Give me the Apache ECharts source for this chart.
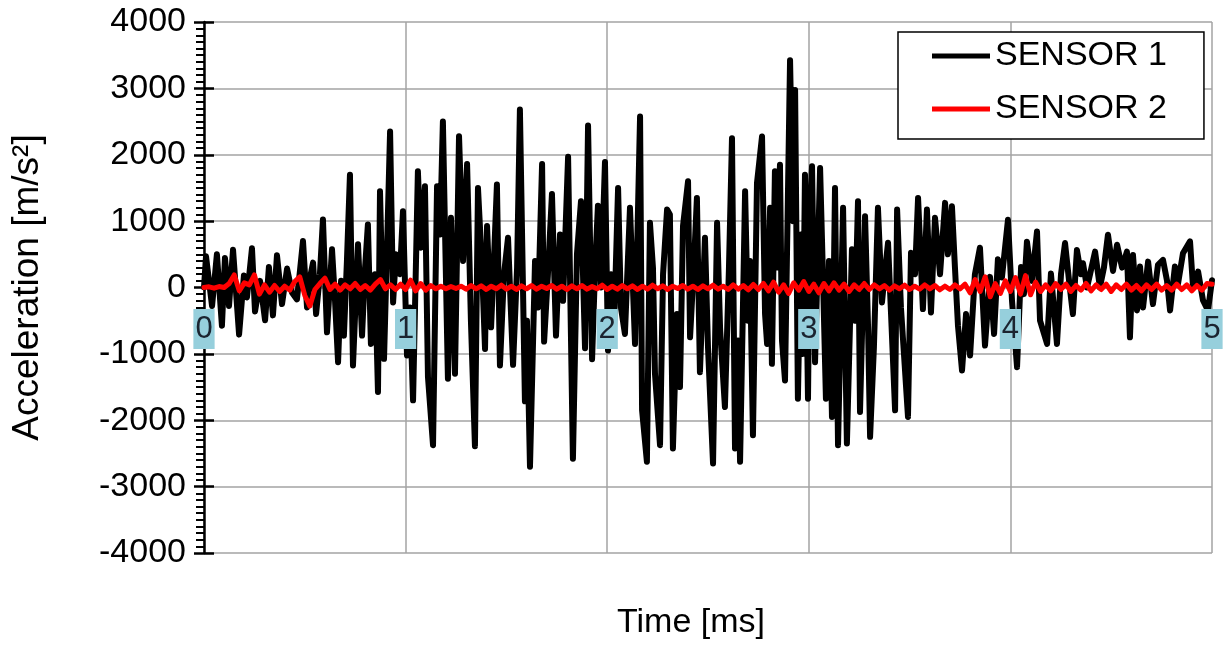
<!DOCTYPE html>
<html>
<head>
<meta charset="utf-8">
<script src="https://cdn.jsdelivr.net/npm/echarts@6/dist/echarts.min.js"></script>
<style>html,body{margin:0;padding:0;background:#fff;}#c{width:1228px;height:646px;}</style>
</head>
<body>
<div id="c"></div>
<script>
// ---- data (time in ms, acceleration in m/s^2) ----
var xTicks = [0, 1, 2, 3, 4, 5];
var yTicks = [-4000, -3000, -2000, -1000, 0, 1000, 2000, 3000, 4000];
var seriesNames = ['SENSOR 1', 'SENSOR 2'];

var sensor1 = [[0,0],[0.010,470],[0.040,-280],[0.064,500],[0.089,-575],[0.104,445],[0.124,-280],[0.144,570],[0.174,-710],[0.198,180],[0.213,-150],[0.238,590],[0.253,-360],[0.278,100],[0.303,-495],[0.322,310],[0.342,-420],[0.362,485],[0.387,-250],[0.412,285],[0.437,-80],[0.461,-180],[0.476,250],[0.491,700],[0.511,-300],[0.526,150],[0.541,375],[0.556,-400],[0.575,200],[0.590,1025],[0.610,-675],[0.635,575],[0.650,-200],[0.665,-1125],[0.680,100],[0.694,-725],[0.709,400],[0.724,1700],[0.739,-1175],[0.764,650],[0.784,-725],[0.799,300],[0.813,950],[0.828,-850],[0.848,200],[0.863,-1575],[0.873,1450],[0.893,-1075],[0.908,600],[0.923,2350],[0.938,-225],[0.952,500],[0.972,200],[0.987,1150],[1.007,-1025],[1.022,-300],[1.037,-1700],[1.061,1750],[1.076,600],[1.096,1525],[1.111,-1350],[1.136,-2375],[1.156,1525],[1.171,800],[1.185,2500],[1.210,-1375],[1.225,1050],[1.245,-1300],[1.265,2280],[1.285,400],[1.305,1860],[1.324,-500],[1.344,-2390],[1.359,1500],[1.379,300],[1.394,-925],[1.404,925],[1.424,-600],[1.438,400],[1.453,1550],[1.468,-1175],[1.488,200],[1.508,750],[1.533,-1165],[1.553,300],[1.567,2680],[1.592,-1715],[1.602,-500],[1.617,-2700],[1.642,400],[1.657,-300],[1.677,1860],[1.687,-815],[1.706,200],[1.726,1410],[1.746,-725],[1.766,800],[1.781,-200],[1.806,1970],[1.830,-2580],[1.850,500],[1.870,1300],[1.890,-915],[1.905,2440],[1.925,-1080],[1.940,300],[1.954,1230],[1.969,0],[1.989,1890],[2.004,-950],[2.019,200],[2.034,-600],[2.054,1500],[2.068,-300],[2.088,-700],[2.113,1200],[2.138,-850],[2.163,2575],[2.173,-1850],[2.197,-2625],[2.212,975],[2.227,300],[2.237,-1300],[2.262,-2375],[2.277,200],[2.297,1175],[2.311,1100],[2.326,-2425],[2.346,-400],[2.361,-1500],[2.376,925],[2.401,1600],[2.411,-750],[2.431,400],[2.445,1350],[2.460,-1275],[2.485,750],[2.500,-900],[2.525,-2650],[2.545,975],[2.560,-625],[2.584,-1800],[2.604,300],[2.619,2250],[2.634,-2425],[2.649,-800],[2.659,-2625],[2.684,1450],[2.698,-500],[2.708,400],[2.723,-2225],[2.743,1575],[2.768,2275],[2.783,-400],[2.793,-850],[2.808,1200],[2.817,-1150],[2.832,1750],[2.842,300],[2.857,1850],[2.867,-800],[2.882,-1400],[2.897,1500],[2.907,3425],[2.922,1000],[2.932,2975],[2.946,-1675],[2.961,800],[2.971,-1000],[2.981,1700],[2.996,-1675],[3.006,1200],[3.016,1825],[3.031,-1125],[3.046,600],[3.056,1800],[3.070,200],[3.085,-1675],[3.100,400],[3.115,-1950],[3.130,1500],[3.145,-2375],[3.170,1200],[3.189,-2350],[3.204,-600],[3.214,575],[3.229,-500],[3.244,1300],[3.254,-1875],[3.279,1075],[3.294,-600],[3.304,-2250],[3.323,-900],[3.343,1200],[3.363,-225],[3.378,250],[3.393,675],[3.408,-400],[3.428,-1850],[3.438,1175],[3.457,-300],[3.472,-1000],[3.492,-1950],[3.507,525],[3.527,200],[3.542,1350],[3.566,-325],[3.586,1175],[3.606,-375],[3.626,1050],[3.651,200],[3.676,1275],[3.690,500],[3.710,1225],[3.725,300],[3.740,-575],[3.760,-1250],[3.780,-400],[3.800,-1025],[3.824,200],[3.849,600],[3.874,-875],[3.899,160],[3.919,-700],[3.938,425],[3.958,150],[3.988,1020],[4.008,-200],[4.033,-1200],[4.053,310],[4.067,-100],[4.082,690],[4.107,100],[4.132,845],[4.147,-500],[4.182,-850],[4.201,210],[4.231,-850],[4.251,200],[4.271,670],[4.291,100],[4.310,-400],[4.330,565],[4.350,200],[4.360,365],[4.380,0],[4.395,200],[4.420,540],[4.444,0],[4.464,300],[4.484,795],[4.509,250],[4.529,645],[4.554,300],[4.578,540],[4.593,-750],[4.608,490],[4.628,-345],[4.643,315],[4.658,-300],[4.683,390],[4.707,-250],[4.732,340],[4.757,415],[4.777,100],[4.792,-345],[4.816,315],[4.831,50],[4.856,515],[4.891,695],[4.906,0],[4.931,240],[4.955,-190],[4.980,-345],[5.000,110]];

var sensor2Step = 0.025; // ms between samples
var sensor2Values = [0,10,-10,15,0,60,190,-50,70,40,
190,-100,40,-70,30,-60,20,-40,90,160,
-120,-280,-30,60,140,-30,50,-40,40,-20,
60,-30,30,-40,50,120,-20,40,-30,50,
-30,110,-50,60,-40,30,-20,20,-20,15,
-15,
20,-25,30,-20,25,-30,20,-20,35,-25,
20,-30,25,-20,30,-25,20,-15,30,-25,
20,-30,25,-20,30,-25,15,-20,35,-30,
20,-25,30,-20,25,-30,20,-25,35,-20,
25,-30,20,-15,30,-25,20,-30,25,-20,
35,-25,20,-30,40,-25,30,-35,45,-30,
60,-50,80,-70,40,-90,70,-40,90,-60,50,-80,60,-50,70,-40,50,-60,40,-30,60,
-30,40,-20,30,-40,25,-20,35,-30,20,-25,40,-20,30,-35,20,-30,40,-20,
50,-80,120,-60,160,-140,60,-90,100,-60,150,-100,180,-110,80,-60,
40,-50,60,-30,50,-60,30,-40,60,-50,40,-30,50,-60,40,-30,50,-40,30,-50,40,-30,50,-40,30,-40,50,-30,40,-50,30,-40,60,50];

var sensor2 = sensor2Values.map(function (v, i) { return [+(i * sensor2Step).toFixed(3), v]; });

var FONT = '"Liberation Sans", Arial, sans-serif';
var GRID = '#a3a3a3';
var X_CROSS_OFFSET = -266; // time axis drawn where acceleration = 0

var chart = echarts.init(document.getElementById('c'), null, {renderer: 'canvas'});
chart.setOption({
  animation: false,
  backgroundColor: '#fff',
  textStyle: {fontFamily: FONT},
  title: {
    text: 'Time [ms]', left: 617, top: 606,
    padding: 0,
    textStyle: {fontFamily: FONT, fontSize: 34, fontWeight: 'normal', color: '#000'}
  },
  legend: {
    data: seriesNames,
    orient: 'vertical',
    left: 898, top: 32,
    padding: [7, 37, 13, 34],
    itemGap: 19,
    itemWidth: 58, itemHeight: 5,
    icon: 'rect',
    borderColor: '#000', borderWidth: 1.5,
    backgroundColor: '#fff',
    textStyle: {fontFamily: FONT, fontSize: 34, color: '#000', lineHeight: 32}
  },
  grid: {left: 204, right: 16, top: 22, bottom: 93, containLabel: false},
  xAxis: [{
    // grid lines
    type: 'value', min: xTicks[0], max: xTicks[xTicks.length - 1], interval: 1,
    position: 'bottom', offset: X_CROSS_OFFSET,
    axisLine: {show: true, onZero: false, lineStyle: {color: GRID, width: 1.5}},
    axisTick: {show: false},
    axisLabel: {show: false},
    splitLine: {show: true, lineStyle: {color: GRID, width: 1.5}}
  }, {
    // tick labels, drawn above the traces
    type: 'value', min: xTicks[0], max: xTicks[xTicks.length - 1], interval: 1,
    position: 'bottom', offset: X_CROSS_OFFSET, z: 10,
    axisLine: {show: false, onZero: false},
    axisTick: {show: false},
    splitLine: {show: false},
    axisLabel: {
      fontFamily: FONT, fontSize: 31, color: '#1b2430',
      backgroundColor: '#96cfdc', padding: [4, 2, 4, 2], lineHeight: 32,
      margin: 22, showMinLabel: true, showMaxLabel: true
    }
  }],
  yAxis: [{
    type: 'value', min: yTicks[0], max: yTicks[yTicks.length - 1], interval: 1000,
    axisLine: {show: true, onZero: false, lineStyle: {color: '#000', width: 2.5}},
    axisTick: {show: true, length: 10, lineStyle: {color: '#000', width: 2.5}},
    minorTick: {show: true, splitNumber: 10, length: 8, lineStyle: {color: '#000', width: 2}},
    splitLine: {show: true, lineStyle: {color: GRID, width: 1.5}},
    axisLabel: {fontFamily: FONT, fontSize: 34, color: '#000', margin: 18,
      formatter: function (v) { return String(v); }},
    name: 'Acceleration [m/s²]', nameLocation: 'middle', nameGap: 158,
    nameTextStyle: {fontFamily: FONT, fontSize: 37, color: '#000'}
  }, {
    type: 'value', min: yTicks[0], max: yTicks[yTicks.length - 1], interval: 1000,
    position: 'left',
    axisLine: {show: false, onZero: false},
    axisTick: {show: true, inside: true, length: 10, lineStyle: {color: '#000', width: 2.5}},
    axisLabel: {show: false},
    splitLine: {show: false}
  }],
  series: [{
    name: seriesNames[0], type: 'line', data: sensor1,
    xAxisIndex: 0, yAxisIndex: 0,
    showSymbol: false, symbol: 'none', color: '#000',
    lineStyle: {color: '#000', width: 6, join: 'round', cap: 'round'},
    z: 2
  }, {
    name: seriesNames[1], type: 'line', data: sensor2,
    xAxisIndex: 0, yAxisIndex: 0,
    showSymbol: false, symbol: 'none', color: '#ff0000',
    lineStyle: {color: '#ff0000', width: 5, join: 'round', cap: 'round'},
    z: 3
  }]
});
</script>
</body>
</html>
